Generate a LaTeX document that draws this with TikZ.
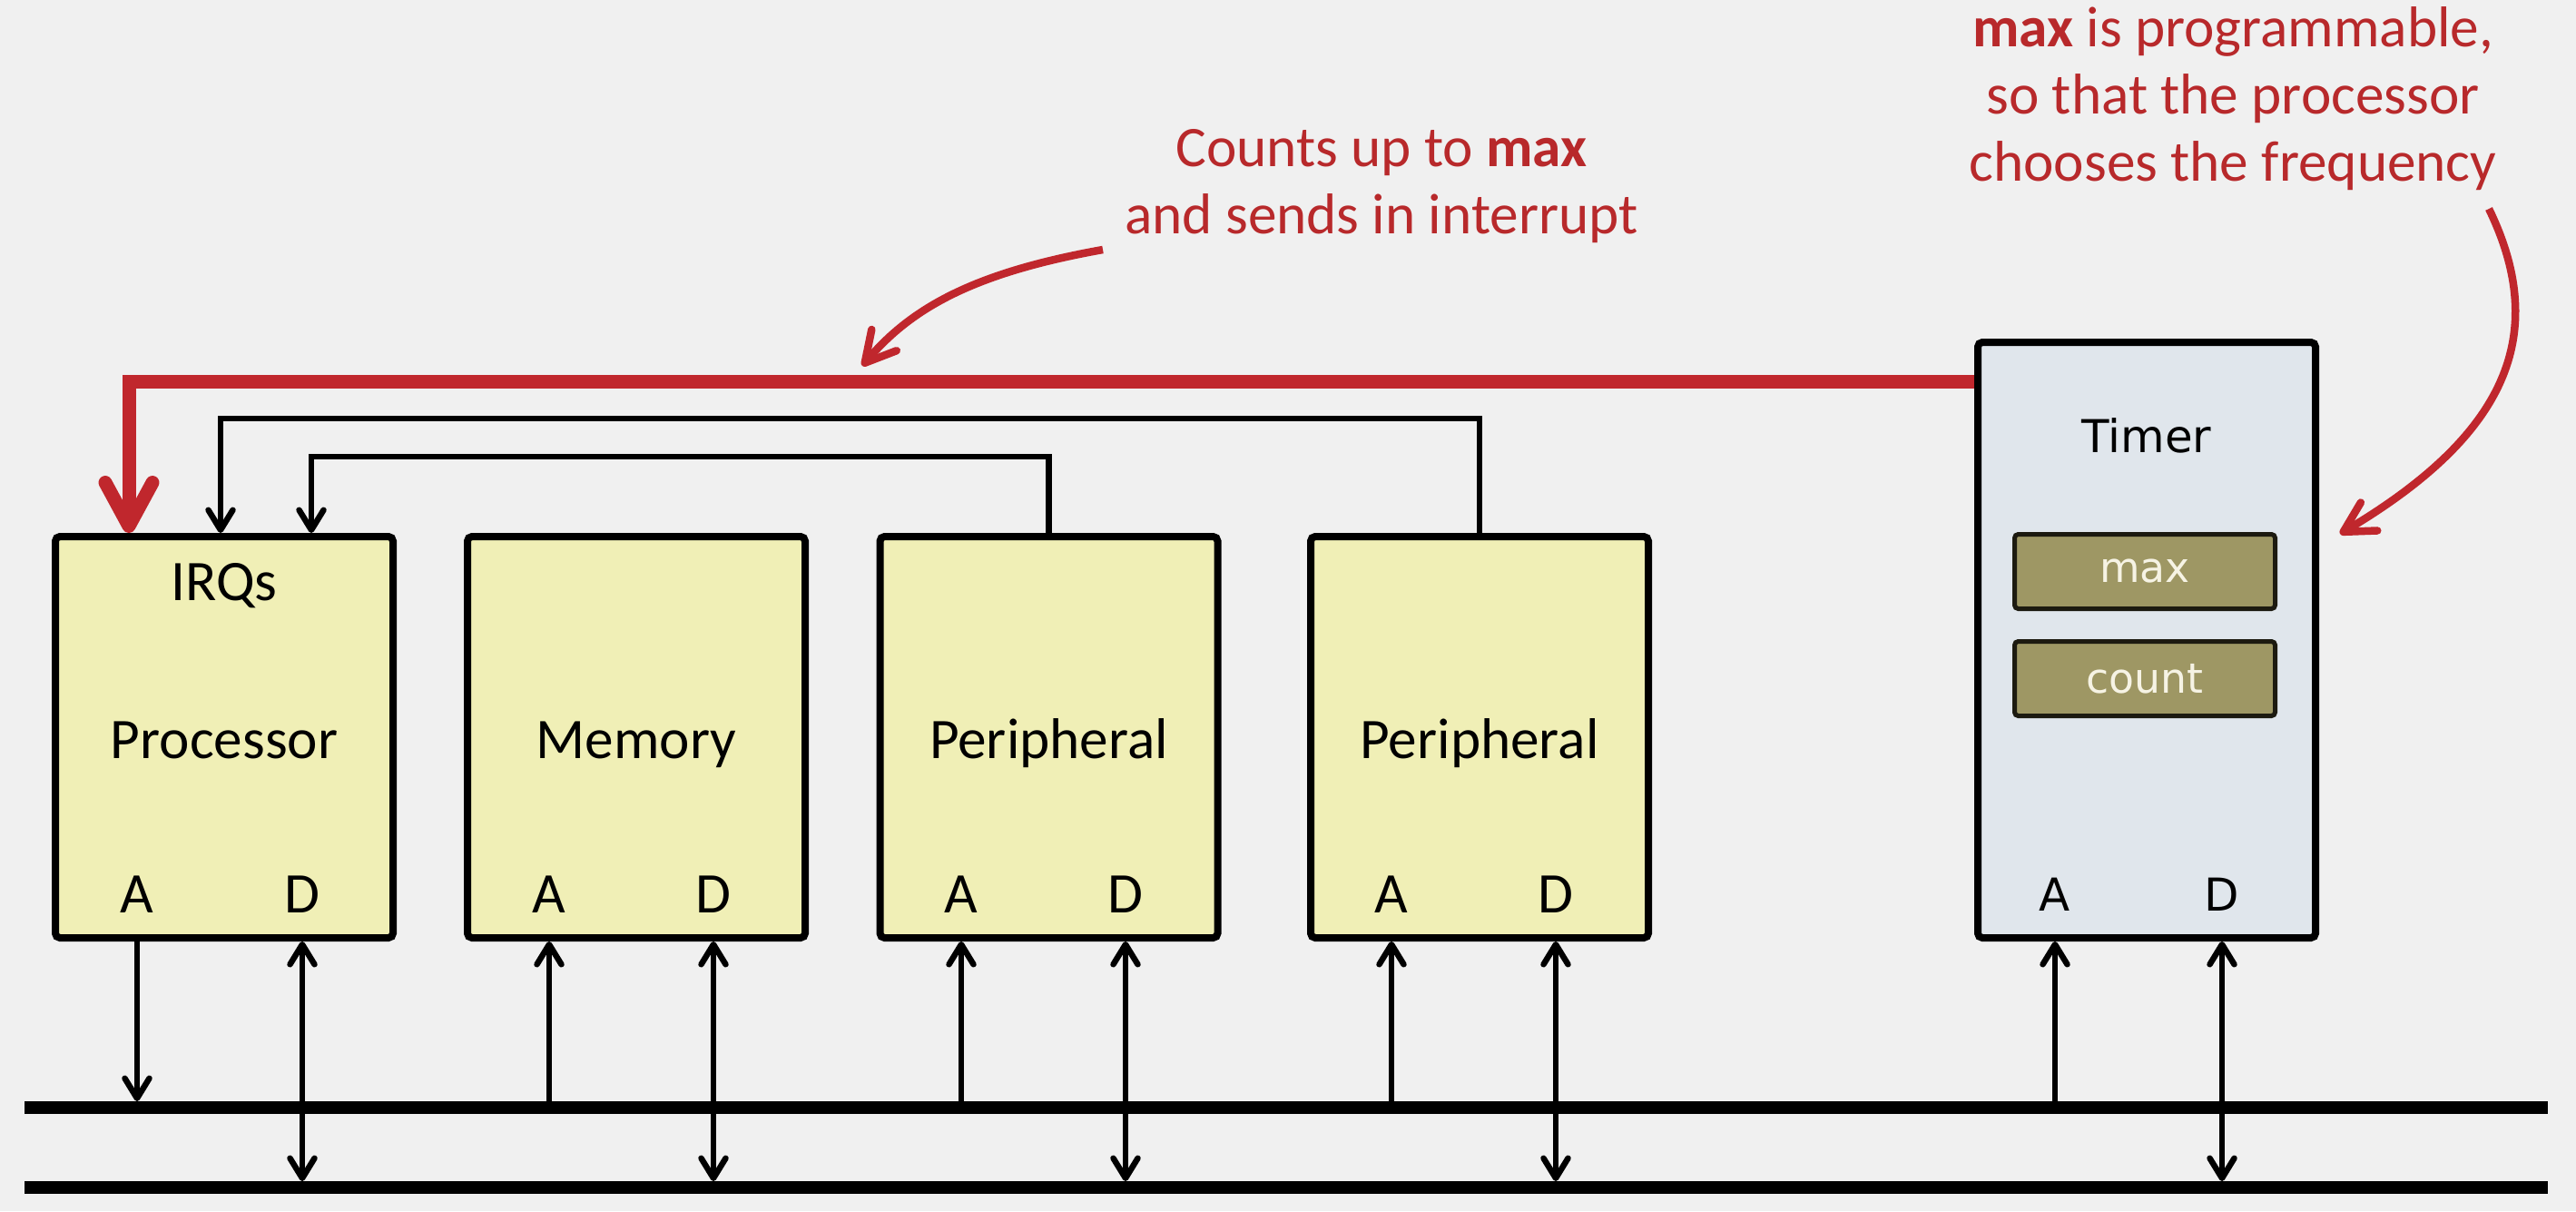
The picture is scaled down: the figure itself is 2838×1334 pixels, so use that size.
\documentclass[tikz,border=0pt]{standalone}
\usepackage{fontspec}
\setmainfont{Carlito}
\newfontfamily\tfont{DejaVu Sans}
\usetikzlibrary{arrows.meta,calc}
\definecolor{bgc}{HTML}{F0F0F0}
\definecolor{yel}{HTML}{F0EFB6}
\definecolor{tblue}{HTML}{E0E6EC}
\definecolor{olive}{HTML}{9E9764}
\definecolor{oliveb}{HTML}{1C1A10}
\definecolor{cream}{HTML}{F6F3E4}
\definecolor{redl}{HTML}{C0272D}
\definecolor{redt}{HTML}{B8292B}
\begin{document}
\begin{tikzpicture}[x=0.1mm,y=-0.1mm,
  ybox/.style={draw=black,line width=0.8mm,fill=yel,rounded corners=0.5mm,inner sep=0,minimum width=37.2mm,minimum height=44.2mm},
  tbox/.style={ybox,fill=tblue,minimum height=65.6mm},
  reg/.style={draw=oliveb,line width=0.5mm,fill=olive,rounded corners=0.4mm,minimum width=28.7mm,minimum height=8.2mm,inner sep=0,text=cream,font=\tfont\fontsize{13}{15}\selectfont},
  lbl/.style={inner sep=0,font=\fontsize{18}{21}\selectfont},
  tlbl/.style={inner sep=0,font=\tfont\fontsize{14.2}{17}\selectfont},
  bus/.style={fill=black,inner sep=0,outer sep=0,minimum width=278mm,minimum height=1.4mm},
  conn/.style={draw=black,line width=0.65mm},
  redline/.style={draw=redl,line width=1.5mm},
  redcurve/.style={draw=redl,line width=0.85mm},
  ann/.style={align=center,text=redt,inner sep=0,font=\fontsize{18}{21}\selectfont},
  bh/.tip={Straight Barb[length=2.2mm,width=2.7mm,round]},
  rbh/.tip={Straight Barb[length=4.8mm,width=5.2mm,round]},
  cbh/.tip={Straight Barb[length=3.3mm,width=3.6mm,round]}
]
\useasboundingbox (0,0) rectangle (2838,1334);
\fill[bgc] (0,0) rectangle (2838,1334);

% boxes
\node[ybox] (proc) at (247,812) {};
\node[ybox] (mem)  at (701,812) {};
\node[ybox] (per1) at (1155.5,812) {};
\node[ybox] (per2) at (1630,812) {};
\node[tbox] (tim)  at (2365,705) {};

% labels
\node[lbl,anchor=base] (irq)  at (247,661) {IRQs};
\node[lbl,anchor=base] (proct) at (247,835) {Processor};
\node[lbl,anchor=base] (memt)  at (701,835) {Memory};
\node[lbl,anchor=base] (per1t) at (1155.5,835) {Peripheral};
\node[lbl,anchor=base] (per2t) at (1630,835) {Peripheral};

\node[lbl,anchor=base] (procA) at (151,1005) {A};
\node[lbl,anchor=base] (procD) at (333,1005) {D};
\node[lbl,anchor=base] (memA)  at (605,1005) {A};
\node[lbl,anchor=base] (memD)  at (786,1005) {D};
\node[lbl,anchor=base] (per1A) at (1059,1005) {A};
\node[lbl,anchor=base] (per1D) at (1240,1005) {D};
\node[lbl,anchor=base] (per2A) at (1533,1005) {A};
\node[lbl,anchor=base] (per2D) at (1714,1005) {D};

\node[tlbl,anchor=base] (timt) at (2365,498) {Timer};
\node[reg] (maxr) at (2363,629.5) {max};
\node[reg] (cntr) at (2363,747.5) {count};
\node[tlbl,anchor=base] (timA) at (2264,1003) {A};
\node[tlbl,anchor=base] (timD) at (2448,1003) {D};

% buses
\node[bus] (bus1) at (1417,1220) {};
\node[bus] (bus2) at (1417,1308) {};

% bus connectors
\draw[conn,-{bh}] (procA |- proc.south) -- (procA |- bus1.north);
\draw[conn,{bh}-{bh}] (procD |- proc.south) -- (procD |- bus2.north);
\draw[conn,-{bh}] (memA |- bus1.north) -- (memA |- mem.south);
\draw[conn,{bh}-{bh}] (memD |- mem.south) -- (memD |- bus2.north);
\draw[conn,-{bh}] (per1A |- bus1.north) -- (per1A |- per1.south);
\draw[conn,{bh}-{bh}] (per1D |- per1.south) -- (per1D |- bus2.north);
\draw[conn,-{bh}] (per2A |- bus1.north) -- (per2A |- per2.south);
\draw[conn,{bh}-{bh}] (per2D |- per2.south) -- (per2D |- bus2.north);
\draw[conn,-{bh}] (timA |- bus1.north) -- (timA |- tim.south);
\draw[conn,{bh}-{bh}] (timD |- tim.south) -- (timD |- bus2.north);

% interrupt lines
\draw[conn,-{bh}] (per2.north) -- ++(0,-126) -| ($(proc.north west)+(186,0)$);
\draw[conn,-{bh}] (per1.north) -- ++(0,-84) -| ($(proc.north west)+(286,0)$);
\draw[redline,-{rbh}] ($(tim.north west)+(0,47)$) -| ($(proc.north west)+(85,0)$);

% annotations (anchor=base is the baseline of the last line)
\node[ann,anchor=base] (ann1) at (1522,257) {Counts up to \textbf{max}\\and sends in interrupt};
\node[ann,anchor=base] (ann2) at (2460,199) {\textbf{max} is programmable,\\so that the processor\\chooses the frequency};
\coordinate (c1s) at (1215,275);
\coordinate (c1e) at (950,403);
\coordinate (c2s) at (2742,230);
\coordinate (c2e) at (2578,588);
\draw[redcurve,-{cbh}] (c1s) .. controls (1075,300) and (1005,338) .. (c1e);
\draw[redcurve,-{cbh}] (c2s) .. controls (2810,370) and (2760,480) .. (c2e);
\end{tikzpicture}
\end{document}
